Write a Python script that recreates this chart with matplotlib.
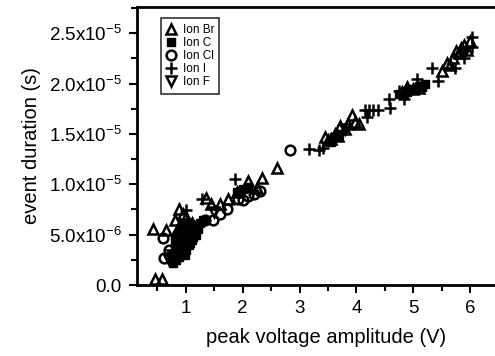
import matplotlib
matplotlib.use('Agg')
import matplotlib.pyplot as plt
import numpy as np

plt.rcParams['font.family'] = ['Liberation Sans', 'DejaVu Sans']
plt.rcParams['mathtext.default'] = 'regular'

# Ion Br (open triangle up)
br_x = [0.45, 0.58, 0.42, 0.65, 0.8, 0.88, 0.95, 1.0, 1.1, 0.85, 0.9, 1.05, 1.15,
        1.35, 1.45, 1.6, 1.75, 1.9, 2.09, 2.25, 2.34, 2.6, 3.45, 3.5, 3.55, 3.62,
        3.68, 3.71, 3.8, 3.85, 3.92, 3.98, 4.05, 4.8, 4.9, 5.0, 5.1, 5.5, 5.6, 5.65,
        5.7, 5.75, 5.8, 5.85, 5.9, 5.95, 6.0]
br_y = [0.06, 0.06, 0.56, 0.55, 0.65, 0.75, 0.7, 0.68, 0.62, 0.55, 0.6, 0.6, 0.58,
        0.86, 0.8, 0.8, 0.85, 0.92, 1.03, 0.96, 1.06, 1.16, 1.47, 1.44, 1.45, 1.5,
        1.48, 1.58, 1.55, 1.6, 1.69, 1.62, 1.6, 1.92, 1.97, 1.95, 1.96, 2.12, 2.2,
        2.18, 2.25, 2.32, 2.3, 2.35, 2.38, 2.33, 2.42]

# Ion C (filled square)
c_x = [0.75, 0.8, 0.85, 0.9, 0.95, 1.0, 1.05, 1.1, 1.15, 0.9, 1.0, 1.05, 1.2, 0.85,
       0.95, 1.0, 0.8, 1.1, 1.25, 0.78, 0.88, 0.92, 0.98, 1.08, 1.12, 1.18, 1.22,
       0.82, 0.93, 1.03, 1.3, 1.9, 2.0, 2.1, 4.75, 4.8, 4.85, 4.9, 4.95, 5.0, 5.05,
       5.1, 5.15, 5.2, 3.6, 3.7, 3.55]
c_y = [0.3, 0.35, 0.4, 0.45, 0.5, 0.55, 0.5, 0.52, 0.55, 0.38, 0.42, 0.4, 0.6, 0.5,
       0.6, 0.35, 0.45, 0.45, 0.62, 0.22, 0.28, 0.32, 0.3, 0.42, 0.48, 0.5, 0.56,
       0.25, 0.55, 0.62, 0.65, 0.92, 0.95, 0.97, 1.9, 1.9, 1.93, 1.92, 1.94, 1.95,
       1.96, 1.98, 1.97, 2.0, 1.47, 1.5, 1.42]

# Ion Cl (open circle)
cl_x = [0.6, 0.62, 0.7, 0.75, 1.33, 1.48, 1.6, 1.72, 1.92, 2.0, 2.1, 2.2, 2.3, 2.83,
        0.9, 1.0, 1.1]
cl_y = [0.47, 0.27, 0.35, 0.25, 0.65, 0.65, 0.7, 0.75, 0.85, 0.84, 0.88, 0.9, 0.93,
        1.34, 0.5, 0.6, 0.58]

# Ion I (plus)
i_x = [1.0, 1.28, 1.86, 3.17, 3.41, 4.15, 4.22, 4.3, 4.38, 4.19, 4.59, 4.57, 4.84,
       4.75, 5.07, 5.33, 5.44, 5.74, 5.9, 6.03, 6.03, 3.35]
i_y = [0.74, 0.85, 1.05, 1.35, 1.36, 1.74, 1.74, 1.74, 1.74, 1.67, 1.76, 1.85, 1.85,
       1.93, 2.05, 2.15, 2.03, 2.15, 2.25, 2.36, 2.46, 1.34]

# Ion F (open triangle down)
f_x = [0.7, 0.75, 0.85, 0.95, 1.0, 1.1, 1.2, 1.5, 3.8, 5.9]
f_y = [0.25, 0.3, 0.32, 0.4, 0.48, 0.5, 0.58, 0.72, 1.55, 2.3]

fig = plt.figure(figsize=(4.95, 3.56), dpi=100)
ax = fig.add_axes([137 / 495, 71 / 356, 358 / 495, 278 / 356])

sc = 1e-5
ax.plot(br_x, np.array(br_y) * sc, '^', ms=7.5, mfc='none', mec='black', mew=1.8, label='Ion Br')
ax.plot(c_x, np.array(c_y) * sc, 's', ms=5.5, mfc='black', mec='black', label='Ion C')
ax.plot(cl_x, np.array(cl_y) * sc, 'o', ms=7, mfc='none', mec='black', mew=1.8, label='Ion Cl')
ax.plot(i_x, np.array(i_y) * sc, '+', ms=9, mec='black', mew=1.8, label='Ion I')
ax.plot(f_x, np.array(f_y) * sc, 'v', ms=7.5, mfc='none', mec='black', mew=1.8, label='Ion F')

ax.set_xlim(0.14, 6.44)
ax.set_ylim(0, 2.76e-5)

ax.set_xticks([1, 2, 3, 4, 5, 6])
ax.set_xticks(np.arange(0.5, 6.5, 0.5), minor=True)
yt = [0, 0.5e-5, 1.0e-5, 1.5e-5, 2.0e-5, 2.5e-5]
ax.set_yticks(yt)
ax.set_yticklabels(['0.0', r'5.0x10$^{-6}$', r'1.0x10$^{-5}$', r'1.5x10$^{-5}$',
                    r'2.0x10$^{-5}$', r'2.5x10$^{-5}$'])
ax.set_yticks(np.arange(0.25e-5, 2.76e-5, 0.5e-5), minor=True)

ax.tick_params(which='major', direction='out', length=6, width=1.5, labelsize=13.5, pad=5)
ax.tick_params(which='minor', direction='out', length=4, width=1.5)
for s in ['left', 'bottom', 'top']:
    ax.spines[s].set_linewidth(2)
ax.spines['right'].set_visible(False)

ax.set_xlabel('peak voltage amplitude (V)', size=14.5)
ax.xaxis.set_label_coords(0.528, -0.155)
ax.set_ylabel('event duration (s)', size=14.5, labelpad=6)

leg = ax.legend(loc='upper left', bbox_to_anchor=(0.05, 0.98), fontsize=8.5,
                frameon=True, fancybox=False, edgecolor='black', handlelength=0.8,
                handletextpad=0.6, labelspacing=0.1, borderpad=0.45, numpoints=1)
leg.get_frame().set_linewidth(1.2)

fig.savefig('out.png', dpi=100)
